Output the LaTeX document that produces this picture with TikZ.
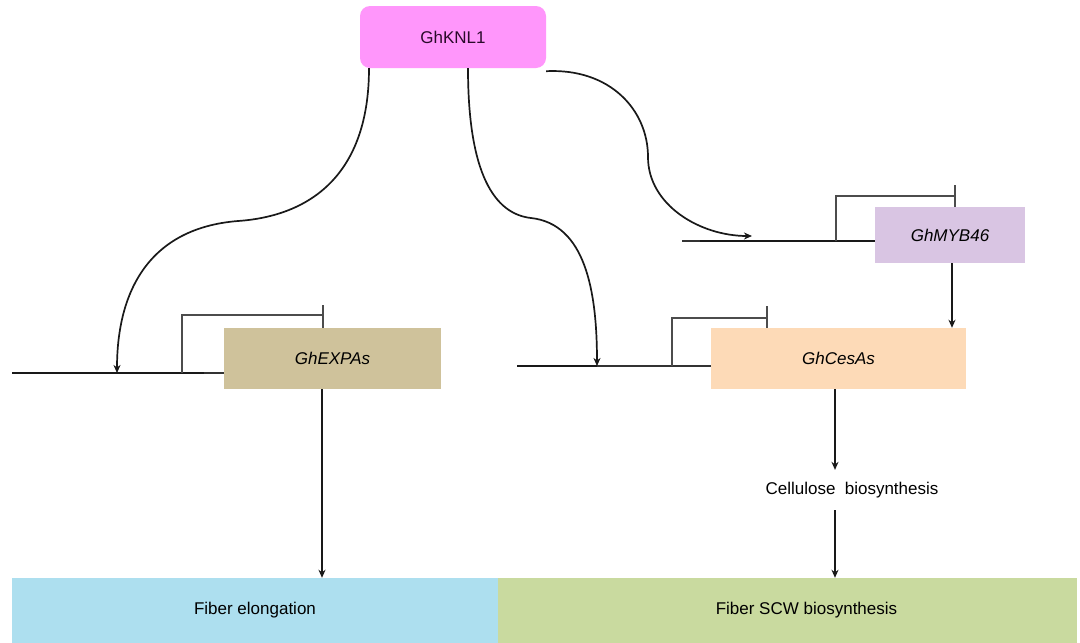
\documentclass[tikz,border=0pt]{standalone}
\usepackage{fontspec}
\setmainfont{Liberation Sans}
\usetikzlibrary{arrows.meta}
\definecolor{knlc}{HTML}{FF96FB}
\definecolor{mybc}{HTML}{D9C5E3}
\definecolor{expc}{HTML}{CFC29B}
\definecolor{cesc}{HTML}{FDDAB7}
\definecolor{elgc}{HTML}{ADDFEF}
\definecolor{scwc}{HTML}{C9DA9F}
\definecolor{knltext}{HTML}{2A0A2A}
\begin{document}
\begin{tikzpicture}[x=1pt,y=-1pt,
  lbl/.style={font=\fontsize{17}{20}\selectfont},
  genebox/.style={lbl, draw=none, inner sep=0pt},
  tip/.style={-{Stealth[length=8pt,width=7pt,inset=2.5pt]}},
  curve/.style={tip, line width=1.7pt, black!90},
  vflow/.style={tip, line width=1.4pt, black!90},
  gene/.style={line width=2.4pt, black!90},
  genethin/.style={line width=1.3pt, black!80},
  prom/.style={line width=1.3pt, black!70}]
\useasboundingbox[fill=white] (0,0) rectangle (1080,643);

% boxes
\node[genebox, fill=knlc, rounded corners=10pt, minimum width=186pt, minimum height=62pt, text=knltext] (knl) at (453,37) {GhKNL1};
\node[genebox, fill=mybc, minimum width=150pt, minimum height=56pt] (myb) at (950,235) {\itshape GhMYB46};
\node[genebox, fill=expc, minimum width=217pt, minimum height=61pt] (expa) at (332.5,358.5) {\itshape GhEXPAs};
\node[genebox, fill=cesc, minimum width=255pt, minimum height=61pt] (cesa) at (838.5,358.5) {\itshape GhCesAs};
\node[genebox, fill=elgc, minimum width=486pt, minimum height=65pt] (elong) at (255,610.5) {Fiber elongation};
\node[genebox, fill=scwc, minimum width=579pt, minimum height=65pt] (scw) at (787.5,610.5) {\hspace*{38pt}Fiber SCW biosynthesis};
\node[lbl, inner xsep=0pt, inner ysep=12pt] (cell) at (852,490) {Cellulose\hspace{0.55em}biosynthesis};

% gene lines and promoters
\coordinate (g1s) at (12,373);
\coordinate (g1a) at (117,373);
\coordinate (g1m) at (204,373);
\coordinate (g1e) at (224,373);
\coordinate (p1) at (182,373);
\coordinate (p1t) at (323,315);
\coordinate (k1) at (323,305);
\draw[gene] (g1s) -- (g1m);
\draw[genethin] (g1m) -- (g1e);
\draw[prom] (p1) |- (p1t);
\draw[prom] (k1) -- (k1 |- expa.north);

\coordinate (g2s) at (517,366);
\coordinate (g2a) at (597,366);
\coordinate (g2e) at (711,366);
\coordinate (p2) at (672,366);
\coordinate (p2t) at (767,318);
\coordinate (k2) at (767,306);
\draw[gene] (g2s) -- (g2a);
\draw[genethin] (g2a) -- (g2e);
\draw[prom] (p2) |- (p2t);
\draw[prom] (k2) -- (k2 |- cesa.north);

\coordinate (g3s) at (682,241);
\coordinate (g3m) at (700,241);
\coordinate (g3e) at (875,241);
\coordinate (g3a) at (752,236);
\coordinate (p3) at (836,241);
\coordinate (p3t) at (955,196);
\coordinate (k3) at (955,185);
\draw[genethin] (g3s) -- (g3m);
\draw[gene] (g3m) -- (g3e);
\draw[prom] (p3) |- (p3t);
\draw[prom] (k3) -- (k3 |- myb.north);

% curved regulation arrows from GhKNL1
\coordinate (c1) at (238,221);
\draw[curve] ([xshift=-84pt]knl.south) .. controls (369,175) and (310,216) .. (c1)
   .. controls (150,228) and (117,290) .. (g1a);
\coordinate (c2) at (531,218);
\draw[curve] ([xshift=15pt]knl.south) .. controls (468,175) and (495,214) .. (c2)
   .. controls (585,224) and (597,290) .. (g2a);
\coordinate (c3) at (648,157);
\draw[curve] ([yshift=-3pt]knl.south east) .. controls (610,68) and (648,110) .. (c3)
   .. controls (648,205) and (700,236) .. (g3a);

% straight arrows
\coordinate (xm) at (952,0);
\draw[vflow] (myb.south -| xm) -- (cesa.north -| xm);
\coordinate (xe) at (322,0);
\draw[vflow] (expa.south -| xe) -- (elong.north -| xe);
\coordinate (xc) at (835,0);
\draw[vflow] (cesa.south -| xc) -- (cell.north -| xc);
\draw[vflow] (cell.south -| xc) -- (scw.north -| xc);
\end{tikzpicture}
\end{document}
